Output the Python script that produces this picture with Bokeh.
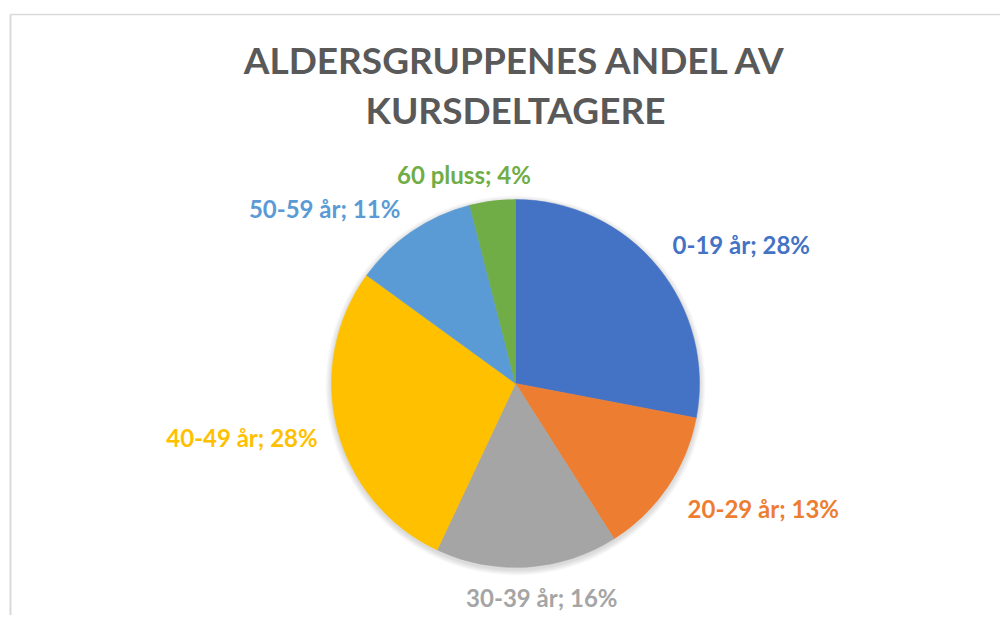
import numpy as np
from bokeh.plotting import figure
from bokeh.models import Range1d, ColumnDataSource
from bokeh.core.properties import value
from bokeh.embed import file_html
from bokeh.resources import INLINE

# ---- data ----
categories = ["0-19 år", "20-29 år", "30-39 år", "40-49 år", "50-59 år", "60 pluss"]
shares = [28, 13, 16, 28, 11, 4]
colors = ["#4472C4", "#ED7D31", "#A5A5A5", "#FFC000", "#5B9BD5", "#70AD47"]
title_lines = ["ALDERSGRUPPENES ANDEL AV", "KURSDELTAGERE"]

# ---- layout ----
W, H = 1000, 615
FONT = "Lato"
cx, cy, R = 515, H - 383, 184          # pie centre / radius (data = screen px)
label_gap = 12
label_nudge = [(6, 0), (10, 0), (14, 4), (-8, 5), (-5, 2), (-27, 0)]

p = figure(width=W, height=H, x_range=Range1d(0, W), y_range=Range1d(0, H),
           output_backend="svg", toolbar_location=None, min_border=0)
p.axis.visible = False
p.grid.visible = False
p.outline_line_color = None
p.background_fill_color = "white"
p.border_fill_color = "white"

# chart frame (extends past right/bottom edges)
p.line([10, 10], [-5, H - 14], line_color="#D9D9D9", line_width=2)
p.line([10, W + 5], [H - 14, H - 14], line_color="#D9D9D9", line_width=1.5)

# soft shadow behind the pie
for k in range(1, 7):
    p.circle(x=[cx], y=[cy - 2], radius=R + k, fill_color="black",
             fill_alpha=0.025, line_color=None)

# wedges
vals = np.array(shares, dtype=float)
frac = vals / vals.sum()
cum = np.concatenate([[0], np.cumsum(frac)])
start = np.pi / 2 - 2 * np.pi * cum[:-1]
end = np.pi / 2 - 2 * np.pi * cum[1:]
src = ColumnDataSource(dict(start=start, end=end, color=colors))
p.wedge(x=cx, y=cy, radius=R, start_angle="start", end_angle="end",
        direction="clock", fill_color="color", line_color="color",
        line_width=0.5, source=src)

# labels
mid = (start + end) / 2
for i, (cat, v, col) in enumerate(zip(categories, shares, colors)):
    a = mid[i]
    c, s = np.cos(a), np.sin(a)
    lx = cx + (R + label_gap) * c
    ly = cy + (R + label_gap) * s
    if c > 0.3:
        align = "left"
    elif c < -0.3:
        align = "right"
    else:
        align = "center"
    if s > 0.3:
        base = "bottom"
    elif s < -0.3:
        base = "top"
    else:
        base = "middle"
    dx, dy = label_nudge[i]
    p.text(x=[lx], y=[ly], text=[f"{cat}; {v}%"], text_font=value(FONT),
           text_font_style="bold", text_font_size="24px", text_color=col,
           text_align=align, text_baseline=base, x_offset=dx, y_offset=dy)

# title
for k, line in enumerate(title_lines):
    p.text(x=[515], y=[H - 59 - 50 * k], text=[line], text_font=value(FONT),
           text_font_style="bold", text_font_size="37px", text_color="#595959",
           text_align="center", text_baseline="middle")

open("out.html", "w").write(file_html(p, INLINE))
